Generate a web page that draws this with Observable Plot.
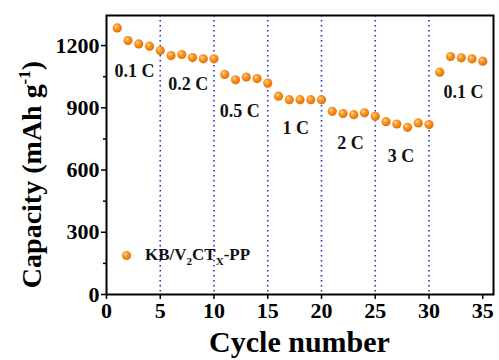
<!DOCTYPE html>
<html>
<head>
<meta charset="utf-8">
<script src="https://cdn.jsdelivr.net/npm/d3@7"></script>
<script src="https://cdn.jsdelivr.net/npm/@observablehq/plot@0.6"></script>
<style>
  html, body { margin: 0; padding: 0; background: #fff; }
  #chart { width: 499px; height: 360px; }
</style>
</head>
<body>
<div id="chart"></div>
<script>
const cycles = [1,2,3,4,5,6,7,8,9,10,11,12,13,14,15,16,17,18,19,20,21,22,23,24,25,26,27,28,29,30,31,32,33,34,35];
const capacity = [1285,1224,1208,1197,1176,1152,1157,1142,1136,1136,1061,1035,1048,1041,1019,956,939,939,939,939,883,872,867,876,859,833,822,806,827,819,1072,1147,1141,1136,1125];
const dividers = [5,10,15,20,25,30];
const rateLabels = ["0.1 C","0.2 C","0.5 C","1 C","2 C","3 C","0.1 C"];
const rateLabelX = [2.6,7.6,12.4,17.6,22.7,27.4,33.2];
const rateLabelY = [1075,1012,885,800,730,665,975];
const xTicks = [0,5,10,15,20,25,30,35];
const yTicks = [0,300,600,900,1200];
const yMinorTicks = [150,450,750,1050];
const seriesName = "KB/V2CTX-PP";

const points = cycles.map((c, i) => ({cycle: c, cap: capacity[i]}));
const labels = rateLabels.map((t, i) => ({t, x: rateLabelX[i], y: rateLabelY[i]}));

const font = "'Liberation Serif', 'Times New Roman', serif";

const plot = Plot.plot({
  width: 499,
  height: 360,
  marginLeft: 106,
  marginRight: 6,
  marginTop: 15,
  marginBottom: 66,
  style: {fontFamily: font, fontWeight: "bold", background: "#fff", color: "#000"},
  x: {domain: [0, 36]},
  y: {domain: [0, 1345]},
  marks: [
    Plot.ruleX(dividers, {stroke: "#2b2bd6", strokeWidth: 1.6, strokeDasharray: "1.4,3.6"}),
    Plot.axisY(yMinorTicks, {tickSize: 3, text: null, strokeWidth: 1.5, label: null}),
    Plot.axisY(yTicks, {tickSize: 5, tickPadding: 2, tickFormat: d => String(d), fontSize: 22, fontFamily: font, fontWeight: "bold", fill: "#000", strokeWidth: 1.5, label: null}),
    Plot.axisX(xTicks, {tickSize: 5, tickPadding: 3, tickFormat: d => String(d), fontSize: 22, fontFamily: font, fontWeight: "bold", fill: "#000", strokeWidth: 1.5, label: null}),
    Plot.frame({stroke: "#000", strokeWidth: 2}),
    Plot.text(labels, {x: "x", y: "y", text: "t", fontSize: 18, fontFamily: font, fontWeight: "bold", fill: "#111"}),
    Plot.dot(points, {x: "cycle", y: "cap", r: 4.6, fill: "url(#ballGrad)", stroke: "none"}),
    Plot.dot([seriesName], {frameAnchor: "bottom-left", dx: 20, dy: -39, r: 4.6, fill: "url(#ballGrad)"})
  ]
});

const svg = d3.select(plot);
const defs = svg.insert("defs", ":first-child");
const g = defs.append("radialGradient").attr("id", "ballGrad")
  .attr("cx", "0.38").attr("cy", "0.35").attr("r", "0.7");
g.append("stop").attr("offset", "0").attr("stop-color", "#ffd9a0");
g.append("stop").attr("offset", "0.35").attr("stop-color", "#fb9a2a");
g.append("stop").attr("offset", "1").attr("stop-color", "#e06a00");

const frameLeft = 106, frameRight = 493, frameTop = 15, frameBottom = 294;

// legend text with subscripts
const lt = svg.append("text")
  .attr("x", frameLeft + 39).attr("y", frameBottom - 34)
  .attr("text-anchor", "start")
  .attr("font-family", font).attr("font-weight", "bold").attr("font-size", 17).attr("fill", "#111");
lt.append("tspan").text("KB/V");
lt.append("tspan").attr("font-size", 11).attr("dy", 5).text("2");
lt.append("tspan").attr("dy", -5).text("CT");
lt.append("tspan").attr("font-size", 11).attr("dy", 5).text("X");
lt.append("tspan").attr("dy", -5).text("-PP");

// x axis title
svg.append("text")
  .attr("x", (frameLeft + frameRight) / 2).attr("y", 352)
  .attr("text-anchor", "middle")
  .attr("font-family", font).attr("font-weight", "bold").attr("font-size", 30).attr("fill", "#000")
  .text("Cycle number");

// y axis title
const yt = svg.append("text")
  .attr("transform", `translate(41,${(frameTop + frameBottom) / 2 + 20}) rotate(-90)`)
  .attr("text-anchor", "middle")
  .attr("font-family", font).attr("font-weight", "bold").attr("font-size", 28).attr("fill", "#000");
yt.append("tspan").text("Capacity (mAh g");
yt.append("tspan").attr("font-size", 17).attr("dy", -11).text("-1");
yt.append("tspan").attr("dy", 11).text(")");

document.getElementById("chart").appendChild(plot);
</script>
</body>
</html>
